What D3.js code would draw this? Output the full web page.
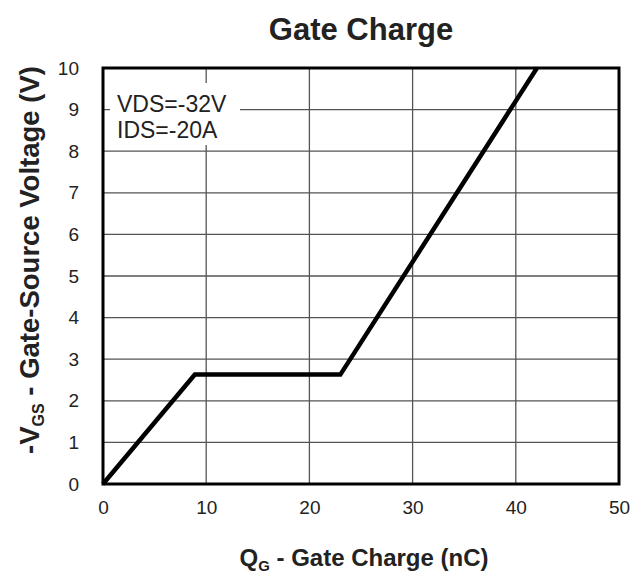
<!DOCTYPE html>
<html>
<head>
<meta charset="utf-8">
<script src="https://cdn.jsdelivr.net/npm/d3@7"></script>
<style>
  body { margin: 0; background: #fff; }
  svg { font-family: "Liberation Sans", Arial, sans-serif; }
  .grid line { stroke: #555; stroke-width: 1.3; }
  .tick text { fill: #222; }
</style>
</head>
<body>
<svg id="chart" width="644" height="574"></svg>
<script>
'use strict';

// gate charge curve (nC vs -Vgs)
var chargeNC = [0, 8.9, 23.0, 42.05];
var vgsVolts = [0, 2.63, 2.63, 10];
var xTicks = [0, 10, 20, 30, 40, 50];
var yTicks = [0, 1, 2, 3, 4, 5, 6, 7, 8, 9, 10];
var noteLines = ['VDS=-32V', 'IDS=-20A'];

var svg = d3.select('#chart'),
  margin = {top: 68, right: 25, bottom: 90, left: 103},
  width = +svg.attr('width') - margin.left - margin.right,
  height = +svg.attr('height') - margin.top - margin.bottom,
  g = svg.append('g').attr('transform', 'translate(' + margin.left + ',' + margin.top + ')');

var x = d3.scaleLinear().domain([0, 50]).range([0, width]);
var y = d3.scaleLinear().domain([0, 10]).range([height, 0]);

// grid
g.append('g').attr('class', 'grid')
  .selectAll('line.v').data(xTicks.slice(1, -1)).enter().append('line')
  .attr('x1', function(d) { return x(d); })
  .attr('x2', function(d) { return x(d); })
  .attr('y1', 0).attr('y2', height);

g.append('g').attr('class', 'grid')
  .selectAll('line.h').data(yTicks.slice(1, -1)).enter().append('line')
  .attr('x1', 0).attr('x2', width)
  .attr('y1', function(d) { return y(d); })
  .attr('y2', function(d) { return y(d); });

// note box covers grid
var note = g.append('g');
note.append('rect')
  .attr('x', 7).attr('y', 15)
  .attr('width', 130).attr('height', 62)
  .attr('fill', '#fff');
note.selectAll('text').data(noteLines).enter().append('text')
  .attr('x', 14)
  .attr('y', function(d, i) { return 44 + i * 26; })
  .attr('font-size', 23)
  .attr('fill', '#222')
  .text(function(d) { return d; });

// axes labels (ticks)
var xAxis = g.append('g')
  .attr('transform', 'translate(0,' + height + ')')
  .call(d3.axisBottom(x).tickValues(xTicks).tickSize(0).tickPadding(17));
xAxis.select('.domain').remove();
xAxis.selectAll('text').attr('font-size', 19).attr('dy', '0.71em');

var yAxis = g.append('g')
  .call(d3.axisLeft(y).tickValues(yTicks).tickSize(0).tickPadding(24));
yAxis.select('.domain').remove();
yAxis.selectAll('text').attr('font-size', 19);

// frame
g.append('rect')
  .attr('width', width).attr('height', height)
  .attr('fill', 'none')
  .attr('stroke', '#000')
  .attr('stroke-width', 3);

// curve
var line = d3.line()
  .x(function(d, i) { return x(chargeNC[i]); })
  .y(function(d) { return y(d); });

g.append('path')
  .datum(vgsVolts)
  .attr('d', line)
  .attr('fill', 'none')
  .attr('stroke', '#000')
  .attr('stroke-width', 4.5)
  .attr('stroke-linejoin', 'miter');

// title
svg.append('text')
  .attr('x', margin.left + width / 2)
  .attr('y', 40)
  .attr('text-anchor', 'middle')
  .attr('font-size', 31)
  .attr('font-weight', 'bold')
  .attr('fill', '#222')
  .text('Gate Charge');

// x label
var xl = svg.append('text')
  .attr('x', margin.left + width / 2 + 3)
  .attr('y', 566)
  .attr('text-anchor', 'middle')
  .attr('font-size', 24)
  .attr('font-weight', 'bold')
  .attr('fill', '#222');
xl.append('tspan').text('Q');
xl.append('tspan').attr('font-size', 15).attr('dy', 5).text('G');
xl.append('tspan').attr('dy', -5).text(' - Gate Charge (nC)');

// y label
var yl = svg.append('text')
  .attr('transform', 'translate(39,' + (margin.top + height / 2 - 16) + ') rotate(-90)')
  .attr('text-anchor', 'middle')
  .attr('font-size', 27.5)
  .attr('font-weight', 'bold')
  .attr('fill', '#222');
yl.append('tspan').text('-V');
yl.append('tspan').attr('font-size', 16).attr('dy', 5).text('GS');
yl.append('tspan').attr('dy', -5).text(' - Gate-Source Voltage (V)');
</script>
</body>
</html>
